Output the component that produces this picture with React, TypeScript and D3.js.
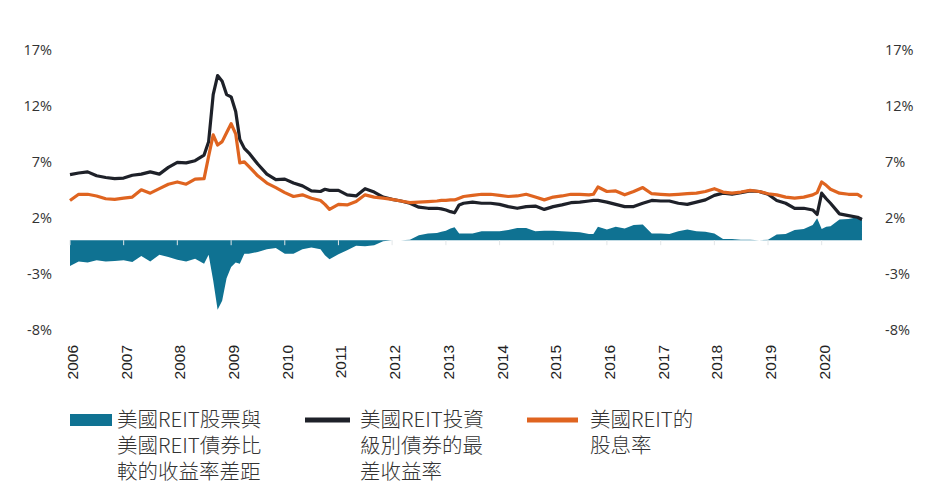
import React from "react";
import * as d3 from "d3";

const dates = [
  "2006-01","2006-03","2006-05","2006-07","2006-09","2006-11",
  "2007-01","2007-03","2007-05","2007-07","2007-09","2007-11",
  "2008-01","2008-03","2008-05","2008-07","2008-08","2008-09","2008-10","2008-11","2008-12",
  "2009-01","2009-02","2009-03","2009-04","2009-05","2009-07","2009-09","2009-11",
  "2010-01","2010-03","2010-05","2010-07","2010-09","2010-10","2010-11",
  "2011-01","2011-03","2011-05","2011-07","2011-09","2011-11",
  "2012-01","2012-03","2012-05","2012-07","2012-09","2012-11","2012-12",
  "2013-01","2013-02","2013-03","2013-04","2013-05","2013-07","2013-09","2013-11",
  "2014-01","2014-03","2014-05","2014-07","2014-09","2014-11",
  "2015-01","2015-03","2015-05","2015-07","2015-09","2015-10","2015-11",
  "2016-01","2016-03","2016-05","2016-07","2016-09","2016-11",
  "2017-01","2017-03","2017-05","2017-07","2017-09","2017-11",
  "2018-01","2018-03","2018-05","2018-07","2018-09","2018-11",
  "2019-01","2019-03","2019-05","2019-07","2019-09","2019-11","2019-12",
  "2020-01","2020-02","2020-03","2020-05","2020-07","2020-09","2020-10",
];

// US REIT investment-grade bond yield-to-worst (%)
const bondYield = [
  5.85, 6.0, 6.1, 5.75, 5.6, 5.5,
  5.55, 5.8, 5.9, 6.1, 5.9, 6.5,
  6.95, 6.9, 7.1, 7.6, 8.8, 13.0, 14.7, 14.2, 13.0,
  12.8, 11.5, 9.0, 8.2, 7.8, 6.8, 5.9, 5.4,
  5.45, 5.1, 4.85, 4.4, 4.35, 4.55, 4.45,
  4.45, 4.05, 3.95, 4.6, 4.3, 3.85,
  3.65, 3.5, 3.3, 2.95, 2.85, 2.85, 2.8,
  2.7, 2.55, 2.45, 3.15, 3.3, 3.4, 3.3, 3.3,
  3.2, 3.0, 2.85, 3.0, 3.05, 2.75,
  3.0, 3.15, 3.35, 3.4, 3.5, 3.55, 3.55,
  3.4, 3.2, 3.0, 3.0, 3.3, 3.55,
  3.5, 3.5, 3.3, 3.2, 3.4, 3.6,
  4.0, 4.2, 4.1, 4.25, 4.4, 4.35,
  4.1, 3.55, 3.3, 2.85, 2.85, 2.7, 2.3,
  4.2, 3.7, 3.3, 2.35, 2.2, 2.05, 1.85,
];

// US REIT dividend yield (%)
const dividendYield = [
  3.55, 4.1, 4.1, 3.95, 3.7, 3.65,
  3.75, 3.85, 4.5, 4.2, 4.6, 5.0,
  5.2, 5.0, 5.45, 5.5, 7.5, 9.4, 8.5, 8.8, 9.6,
  10.4, 9.5, 6.9, 7.0, 6.6, 5.75, 5.1, 4.7,
  4.25, 3.9, 4.05, 3.75, 3.55, 3.2, 2.75,
  3.2, 3.15, 3.45, 4.05, 3.85, 3.75,
  3.65, 3.5, 3.35, 3.4, 3.45, 3.5, 3.55,
  3.55, 3.6, 3.6, 3.75, 3.9, 4.0, 4.1, 4.1,
  4.0, 3.9, 3.95, 4.1, 3.85, 3.6,
  3.85, 3.95, 4.1, 4.1, 4.05, 4.1, 4.75,
  4.35, 4.4, 4.05, 4.35, 4.7, 4.15,
  4.1, 4.05, 4.1, 4.15, 4.2, 4.35,
  4.6, 4.3, 4.2, 4.3, 4.45, 4.35,
  4.15, 4.05, 3.85, 3.75, 3.85, 4.05, 4.25,
  5.2, 4.9, 4.55, 4.2, 4.1, 4.1, 3.85,
];

const yTicks = [17, 12, 7, 2, -3, -8];
const xYears = [2006, 2007, 2008, 2009, 2010, 2011, 2012, 2013, 2014, 2015, 2016, 2017, 2018, 2019, 2020];

const legendSpread = ["美國REIT股票與", "美國REIT債券比", "較的收益率差距"];
const legendBond = ["美國REIT投資", "級別債券的最", "差收益率"];
const legendDiv = ["美國REIT的", "股息率"];

const TEAL = "#0f7292";
const BLACK = "#1e2129";
const ORANGE = "#df6420";

const parse = (s: string) => {
  const [y, m] = s.split("-").map(Number);
  return new Date(y, m - 1, 1);
};

export default function App() {
  const data = dates.map((d, i) => ({
    date: parse(d),
    bond: bondYield[i],
    div: dividendYield[i],
    spread: dividendYield[i] - bondYield[i],
  }));

  const x = d3
    .scaleTime()
    .domain([new Date(2006, 0, 1), new Date(2021, 0, 1)])
    .range([70, 875.5]);
  const y = d3.scaleLinear().domain([-8, 17]).range([329.8, 49.8]);

  const area = d3
    .area<any>()
    .x((d) => x(d.date))
    .y0(y(0))
    .y1((d) => y(d.spread));
  const bondLine = d3
    .line<any>()
    .x((d) => x(d.date))
    .y((d) => y(d.bond));
  const divLine = d3
    .line<any>()
    .x((d) => x(d.date))
    .y((d) => y(d.div));

  const axisFont = "'Open Sans', 'DejaVu Sans', sans-serif";
  const legendFont = "'Noto Sans CJK TC', 'Noto Sans', sans-serif";

  return (
    <svg
      width={939}
      height={500}
      style={{ position: "absolute", left: 0, top: 0, background: "#fff" }}
    >
      <rect x={0} y={0} width={939} height={500} fill="#fff" />
      {yTicks.map((t) => (
        <g key={t}>
          <text x={52} y={y(t)} dy="0.35em" textAnchor="end" fontFamily={axisFont} fontSize={14.5} fill="#333">
            {t}%
          </text>
          <text x={885} y={y(t)} dy="0.35em" textAnchor="start" fontFamily={axisFont} fontSize={14.5} fill="#333">
            {t}%
          </text>
        </g>
      ))}

      <path d={area(data) || ""} fill={TEAL} stroke="none" />

      {xYears.map((yr) => {
        const xx = x(new Date(yr, 0, 1));
        return (
          <line key={yr} x1={xx} x2={xx} y1={y(0)} y2={y(0) + 5} stroke="#e2e6e8" strokeWidth={1} />
        );
      })}

      <path d={bondLine(data) || ""} fill="none" stroke={BLACK} strokeWidth={3.2} strokeLinejoin="round" />
      <path d={divLine(data) || ""} fill="none" stroke={ORANGE} strokeWidth={3.2} strokeLinejoin="round" />

      {xYears.map((yr) => {
        const xx = x(new Date(yr, 0, 1));
        return (
          <text
            key={yr}
            transform={`translate(${xx + 8},345) rotate(-90)`}
            textAnchor="end"
            fontFamily="'Liberation Sans', Arial, sans-serif"
            fontSize={15.5}
            fill="#222"
          >
            {yr}
          </text>
        );
      })}

      <rect x={70} y={414} width={42} height={12} fill={TEAL} />
      {legendSpread.map((s, i) => (
        <text key={s} x={117} y={420 + i * 26} dy="0.35em" fontFamily={legendFont} fontWeight={300} fontSize={20.5} fill="#333">
          {s}
        </text>
      ))}
      <line x1={305} x2={350} y1={420} y2={420} stroke={BLACK} strokeWidth={5} />
      {legendBond.map((s, i) => (
        <text key={s} x={360} y={420 + i * 26} dy="0.35em" fontFamily={legendFont} fontWeight={300} fontSize={20.5} fill="#333">
          {s}
        </text>
      ))}
      <line x1={527} x2={578} y1={420} y2={420} stroke={ORANGE} strokeWidth={5} />
      {legendDiv.map((s, i) => (
        <text key={s} x={590} y={420 + i * 26} dy="0.35em" fontFamily={legendFont} fontWeight={300} fontSize={20.5} fill="#333">
          {s}
        </text>
      ))}
    </svg>
  );
}
